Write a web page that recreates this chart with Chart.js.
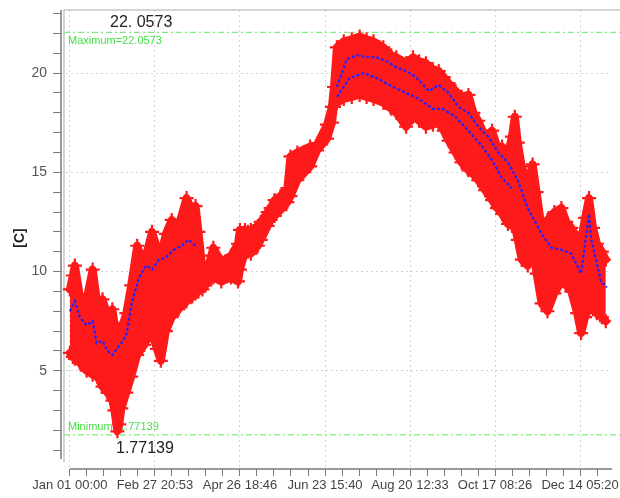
<!DOCTYPE html>
<html><head><meta charset="utf-8">
<script src="https://cdn.jsdelivr.net/npm/chart.js@4.4.1/dist/chart.umd.min.js"></script>
<style>html,body{margin:0;padding:0;background:#fff;overflow:hidden}</style>
</head><body>
<canvas id="c" width="620" height="498"></canvas>
<script>
// ---- data ----
// day of year for the envelope readings
const days = [0,2,3.4,6.7,11.4,15.5,18.8,22.2,25.6,28.9,30.3,32.3,33.6,35,38.4,41.7,45.8,50.5,51.8,55.9,59.2,61.9,65.3,69.3,74,79.4,82.8,85.5,87.5,90.2,92.2,96.2,97.6,103,109.7,114.4,115.7,119.1,121.1,123.1,127.9,129.9,134.6,136.6,139.3,143.3,148,150.1,154.8,163.5,168.2,175,178.3,179.7,181.7,186.4,191.8,197.2,201.9,206.6,213.3,218.7,222.1,228.8,233.5,237.6,242.3,247,251,254.4,257.7,262.4,266.5,271.2,274.6,277.9,282.6,287.3,290.7,294.1,298.1,300.8,302.8,304.8,307.5,311.6,314.9,317.6,321,325,329.7,334.5,337.8,341.2,345.2,347.9,350.6,353.3,356,358.7,362,364.7];
// upper envelope of the readings [C]
const upperC = [9.1,9.8,10.3,8.8,8.6,10.1,8.3,8.6,7.8,8.1,7.4,6.4,6.7,7.1,7.9,9.3,11.3,10.3,10.8,12.0,11.2,10.8,11.9,12.6,12.3,13.7,13.1,13.3,12.0,10.1,9.7,10.8,11.2,10.5,10.8,11.4,12.1,12.1,12.0,12.1,12.3,12.5,13.0,13.2,13.6,13.8,14.2,15.8,16.0,16.3,16.4,17.4,18.3,19.3,21.3,21.6,21.7,21.85,21.7,21.6,21.3,20.9,20.8,20.5,20.8,20.6,20.5,20.2,20.1,19.8,19.5,19.1,18.8,18.9,18.0,17.6,16.8,17.1,16.3,16.3,15.9,16.8,17.8,16.5,15.3,14.4,15.4,14.0,12.2,12.6,13.0,13.2,12.5,12.2,11.7,11.6,12.7,13.7,12.2,11.4,11.0,10.6];
// lower envelope of the readings [C]
const lowerC = [5.9,5.7,5.6,5.4,5.0,4.8,4.7,4.2,3.9,3.5,3.0,1.95,2.3,3.1,3.9,4.7,5.8,6.3,6.5,6.9,6.1,5.5,7.0,7.7,8.1,8.5,8.7,8.9,9.0,9.1,9.3,9.7,9.7,9.5,9.7,9.5,10.1,11.0,11.0,10.9,11.3,11.6,12.3,12.6,12.8,13.1,13.5,13.8,14.6,15.3,16.1,16.7,17.5,18.3,18.5,18.7,18.8,18.9,18.8,18.7,18.5,18.2,18.0,17.3,17.8,17.6,17.3,17.4,17.5,17.1,16.6,16.0,15.5,15.1,14.9,14.6,14.1,13.6,13.2,12.9,12.4,12.3,12.3,11.6,10.6,10.3,11.3,9.9,8.4,8.0,8.9,9.5,9.3,9.0,7.9,6.9,7.7,8.2,8.1,7.9,7.7,7.5];
// blue trace (first)
const blueDays1 = [0,3.4,6.7,11.4,15.5,18.2,22.2,25.6,28.9,35,38.4,42.4,47.1,51.8,55.9,60.6,65.3,70.7,76,80.8,85.5,130,181.7,188.4,195.2,201.9,208.6,215.3,222.1,228.8,235.5,244.3,251,257.7,264.5,271.2,277.9,284.7,291.4,298.1,304.8,311.6,321,327.7,334.5,341.2,347.9,353.3,354.6,361.4,365.4];
const blueC1 = [8.0,8.5,7.7,7.3,7.5,6.4,6.5,6.0,5.8,6.4,6.8,8.5,9.7,10.3,10.1,10.6,10.7,11.1,11.3,11.6,11.3,null,19.3,20.7,20.9,20.8,20.8,20.6,20.3,20.1,19.8,19.1,19.4,19.0,18.3,18.0,17.3,16.8,16.0,15.5,14.6,13.2,11.9,11.2,11.1,10.9,9.9,12.9,11.7,9.5,9.2];
// blue trace (second, summer)
const blueDays2 = [181.7,190.4,199.9,208.6,217.4,228.8,237.6,247,253.7,262.4,271.2,280.6,287.3,294.1,300.8];
const blueC2 = [18.8,19.75,20.0,19.75,19.4,19.0,18.7,18.2,18.2,17.8,17.1,16.3,15.6,14.7,14.2];
// axis labels
const xTickLabels = ['Jan 01 00:00','Feb 27 20:53','Apr 26 18:46','Jun 23 15:40','Aug 20 12:33','Oct 17 08:26','Dec 14 05:20'];
const majorStepDays = 57.87;
const yTickValues = [5,10,15,20];
const maxValue = 22.0573;
const minValue = 1.77139;
const maxLabel = '22. 0573';
const minLabel = '1.77139';
const maxNote = 'Maximum=22.0573';
const minNote = 'Minimum=1.77139';
const yAxisTitle = '[C]';

const FONT = "'Liberation Sans', Arial, sans-serif";
const RED = '#fe1a1a';
const BLUE = '#2222ff';
const pts = (xs, ys) => xs.map((x, i) => ({x: x, y: ys[i]}));

const annot = {
  id: 'annot',
  beforeDatasetsDraw(chart) {
    const ctx = chart.ctx, ca = chart.chartArea;
    const ys = chart.scales.y;
    ctx.save();
    ctx.strokeStyle = '#c8c8c8';
    ctx.lineWidth = 1.5;
    ctx.beginPath();
    ctx.moveTo(64, 462); ctx.lineTo(64, ca.top); ctx.lineTo(620, ca.top);
    ctx.stroke();
    const yMax = ys.getPixelForValue(maxValue), yMin = ys.getPixelForValue(minValue);
    ctx.strokeStyle = '#7ceb7c';
    ctx.lineWidth = 1.3;
    ctx.setLineDash([6,3,2,3]);
    [yMax, yMin].forEach(y => { ctx.beginPath(); ctx.moveTo(64, y); ctx.lineTo(620, y); ctx.stroke(); });
    ctx.setLineDash([]);
    ctx.fillStyle = '#44e044';
    ctx.font = '11px ' + FONT;
    ctx.textBaseline = 'middle';
    ctx.textAlign = 'left';
    ctx.fillText(maxNote, 68, yMax + 9);
    ctx.fillText(minNote, 68, yMin - 8);
    ctx.fillStyle = '#222';
    ctx.font = '16px ' + FONT;
    ctx.fillText(maxLabel, 110, yMax - 10);
    ctx.fillText(minLabel, 116, yMin + 14);
    ctx.restore();
  },
  afterDraw(chart) {
    const ctx = chart.ctx, ca = chart.chartArea;
    const xs = chart.scales.x;
    ctx.save();
    ctx.strokeStyle = '#7a7a7a';
    ctx.lineWidth = 1.5;
    ctx.beginPath();
    ctx.moveTo(ca.left, ca.top); ctx.lineTo(ca.left, 459);
    ctx.stroke();
    ctx.beginPath();
    ctx.moveTo(xs.getPixelForValue(0), ca.bottom); ctx.lineTo(612, ca.bottom);
    ctx.stroke();
    ctx.fillStyle = '#222';
    ctx.font = 'bold 14px ' + FONT;
    ctx.textAlign = 'center';
    ctx.textBaseline = 'middle';
    ctx.translate(20, 238);
    ctx.rotate(-Math.PI / 2);
    ctx.fillText(yAxisTitle, 0, 0);
    ctx.restore();
  }
};

const redStyle = {borderColor: RED, borderWidth: 8, borderJoinStyle: 'round', borderCapStyle: 'round', pointStyle: 'cross', pointRadius: 7, pointBorderWidth: 2.2, pointBorderColor: RED, tension: 0};

new Chart(document.getElementById('c'), {
  type: 'line',
  data: {
    datasets: [
      {data: pts(blueDays1, blueC1), borderColor: BLUE, borderWidth: 2.2, borderDash: [3,2], pointRadius: 0, fill: false, spanGaps: false, order: 0, tension: 0},
      {data: pts(blueDays2, blueC2), borderColor: BLUE, borderWidth: 2.2, borderDash: [3,2], pointRadius: 0, fill: false, order: 0, tension: 0},
      Object.assign({data: pts(days, upperC), fill: false, order: 2}, redStyle),
      Object.assign({data: pts(days, lowerC), backgroundColor: RED, fill: '-1', order: 1}, redStyle)
    ]
  },
  options: {
    responsive: false,
    animation: false,
    events: [],
    layout: {padding: {top: 10, right: 3, left: 0, bottom: 0}},
    plugins: {legend: {display: false}, tooltip: {enabled: false}},
    scales: {
      x: {
        type: 'linear', min: -6.06, max: 368.1,
        afterBuildTicks: s => { s.ticks = Array.from({length: 32}, (_, k) => ({value: k * majorStepDays / 5})); },
        afterFit: s => { s.height = 29; s.paddingLeft = 0; s.paddingRight = 0; },
        ticks: {autoSkip: false, maxRotation: 0, minRotation: 0, padding: 2, color: '#444', font: {size: 13, family: FONT},
          callback: (v, i) => (i % 5 === 0 ? xTickLabels[i / 5] : '')},
        grid: {color: c => (c.index % 5 === 0 ? '#d4d4d4' : 'rgba(0,0,0,0)'), tickColor: '#7a7a7a', tickLength: 7, lineWidth: 1},
        border: {display: false, dash: [2,3]}
      },
      y: {
        type: 'linear', min: 0.05, max: 23.18,
        afterBuildTicks: s => { s.ticks = Array.from({length: 23}, (_, k) => ({value: k + 1})); },
        afterFit: s => { s.width = 61; s.paddingTop = 0; s.paddingBottom = 0; },
        ticks: {padding: 6, color: '#555', font: {size: 14, family: FONT},
          callback: v => (yTickValues.includes(v) ? String(v) : '')},
        grid: {color: c => (c.tick && yTickValues.includes(c.tick.value) ? '#d4d4d4' : 'rgba(0,0,0,0)'), tickColor: '#7a7a7a', tickLength: 8, lineWidth: 1},
        border: {display: false, dash: [2,3]}
      }
    }
  },
  plugins: [annot]
});
</script>
</body></html>
